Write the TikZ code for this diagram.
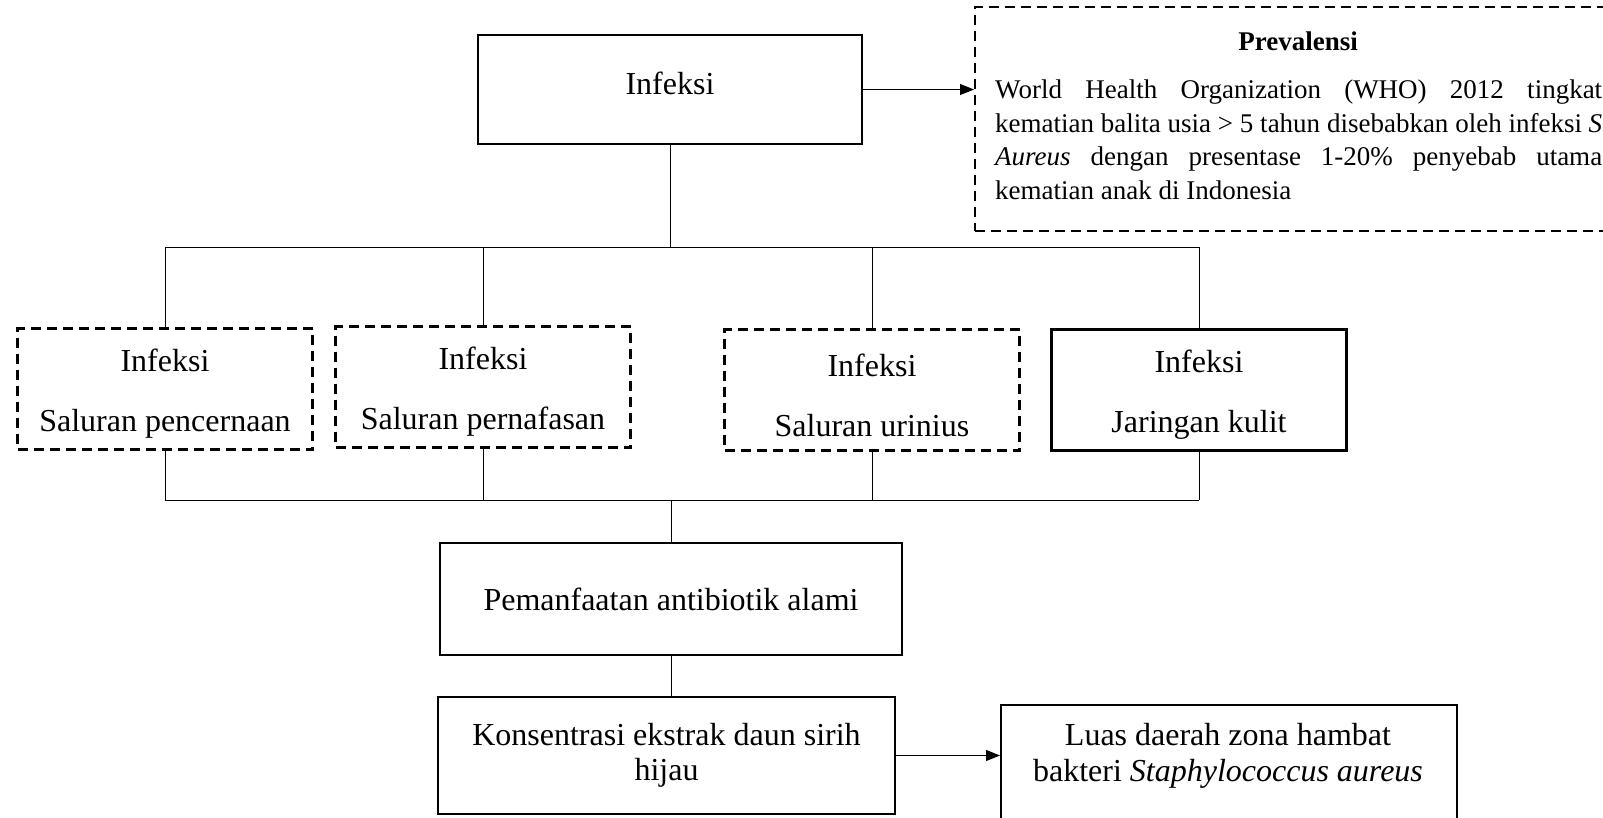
\documentclass[tikz,border=0pt]{standalone}
\usepackage{fontspec}
\setmainfont{Liberation Serif}
\usetikzlibrary{arrows.meta}
\newcommand{\lowertext}[1]{\raisebox{0pt}[\dimexpr\height+10pt\relax]{#1}}
\begin{document}
\begin{tikzpicture}[x=1pt,y=-1pt,
  solidbox/.style={draw, line width=2.4pt, inner sep=0pt, align=center, font=\fontsize{32}{36}\selectfont},
  dashbox/.style={solidbox, dash pattern=on 10pt off 6pt},
  rowbox/.style={minimum width=295pt, minimum height=121pt, font=\fontsize{32}{60}\selectfont},
  conn/.style={line width=1pt},
  arr/.style={line width=1pt, -{Triangle[length=14pt,width=11pt]}}
]
\useasboundingbox (0,0) rectangle (1603,817);

% top box
\node[solidbox, minimum width=384pt, minimum height=109pt] (inf) at (670,89.5) {\raisebox{0pt}[\height][\dimexpr\depth+13pt\relax]{Infeksi}};

% prevalensi box (extends beyond the right edge)
\node[draw, line width=2.4pt, dash pattern=on 10pt off 6pt, minimum width=700pt, minimum height=224pt, anchor=north west, inner sep=0pt] (prev) at (974,6) {};
\node[font=\bfseries\fontsize{27}{33}\selectfont, inner sep=0pt] (prevtitle) at (1298,41) {Prevalensi};
\node[anchor=north west, text width=607pt, align=justify, inner sep=0pt, font=\fontsize{27}{33.4}\selectfont] (prevtext) at (995,80)
{\hyphenpenalty=10000 World Health Organization (WHO) 2012 tingkat\linebreak kematian balita usia > 5 tahun disebabkan oleh infeksi \textit{S}\linebreak \textit{Aureus} dengan presentase 1-20\% penyebab utama\linebreak kematian anak di Indonesia};

% row of infection boxes
\node[dashbox, rowbox] (b1) at (165,389) {\lowertext{Infeksi}\\Saluran pencernaan};
\node[dashbox, rowbox] (b2) at (483,387) {\lowertext{Infeksi}\\Saluran pernafasan};
\node[dashbox, rowbox] (b3) at (872,390) {\lowertext{Infeksi}\\Saluran urinius};
\node[solidbox, rowbox] (b4) at (1199,390) {\lowertext{Infeksi}\\Jaringan kulit};

% lower boxes
\node[solidbox, minimum width=462pt, minimum height=112pt] (pem) at (671,599) {Pemanfaatan antibiotik alami};
\node[draw, line width=2.4pt, minimum width=457pt, minimum height=117pt, inner sep=0pt] (kons) at (666.5,755.5) {};
\node[align=center, inner sep=0pt, font=\fontsize{32}{35}\selectfont] (konstext) at (666.5,755.5) {Konsentrasi ekstrak daun sirih\\hijau};
\node[draw, line width=2.4pt, minimum width=456pt, minimum height=150pt, anchor=north west, inner sep=0pt] (luas) at (1000,704) {};
\node[align=center, inner sep=0pt, font=\fontsize{32}{36}\selectfont] (luastext) at (1228,756) {Luas daerah zona hambat\\bakteri \textit{Staphylococcus aureus}};

% connectors
\coordinate (topbus) at (670,247);
\coordinate (botbus) at (671,500);
\draw[conn] (inf.south) -- (inf.south |- topbus);
\draw[conn] (b1.north |- topbus) -- (b4.north |- topbus);
\foreach \b in {b1,b2,b3,b4} {
  \draw[conn] (\b.north |- topbus) -- (\b.north);
  \draw[conn] (\b.south) -- (\b.south |- botbus);
}
\draw[conn] (b1.south |- botbus) -- (b4.south |- botbus);
\draw[conn] (pem.north |- botbus) -- (pem.north);
\draw[conn] (pem.south) -- (pem.south |- kons.north);
\draw[arr] (inf.east) -- (inf.east -| prev.west);
\draw[arr] (kons.east) -- (kons.east -| luas.west);
\end{tikzpicture}
\end{document}
